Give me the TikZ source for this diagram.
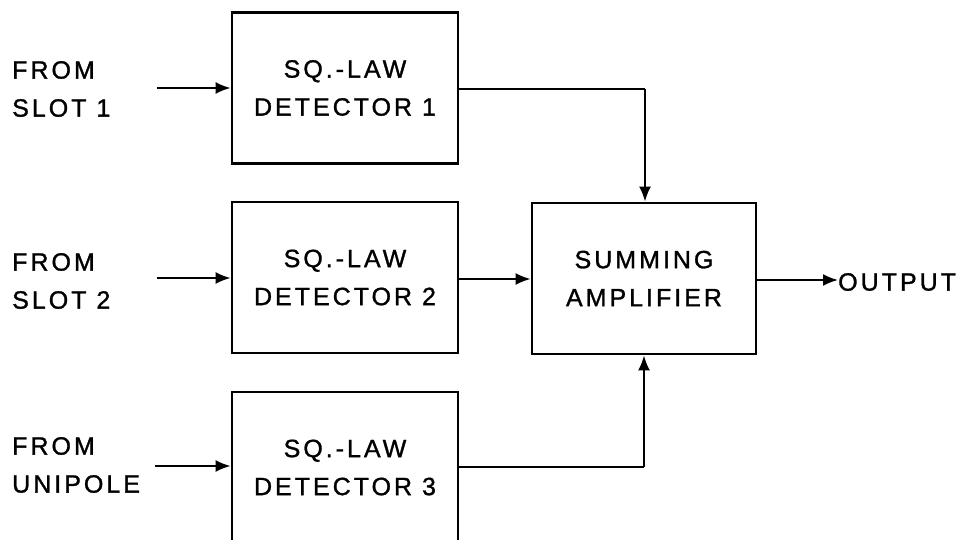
\documentclass[tikz,border=0pt]{standalone}
\usepackage{fontspec}
\setmainfont{Liberation Sans}[LetterSpace=12, FakeBold=1.2]
\usetikzlibrary{arrows.meta}
\newcommand\lettering{\fontsize{25}{38}\selectfont}
\begin{document}
\begin{tikzpicture}[x=1pt,y=-1pt,
  block/.style={draw, line width=2.8pt, minimum width=226pt, minimum height=151pt,
                align=center, inner sep=0pt, font=\lettering},
  label/.style={align=left, anchor=west, inner sep=0pt, font=\lettering},
  flow/.style={line width=2pt, -{Latex[length=15pt,width=12pt]}},
  wire/.style={line width=2pt}]
\useasboundingbox (0,0) rectangle (967,540);
\clip (0,0) rectangle (967,540);

% detector blocks and the summing amplifier
\node[block] (d1) at (345,88) {SQ.-LAW\\DETECTOR 1};
\node[block] (d2) at (345,277.5) {SQ.-LAW\\DETECTOR 2};
\node[block] (d3) at (345,467.5) {SQ.-LAW\\DETECTOR 3};
\node[block, minimum width=224pt] (amp) at (644,278.5) {SUMMING\\AMPLIFIER};

% input labels
\node[label] (in1) at (12,89) {FROM\\SLOT 1};
\node[label] (in2) at (12,281) {FROM\\SLOT 2};
\node[label] (in3) at (12,465) {FROM\\UNIPOLE};
\node[label] (out) at (838,282) {OUTPUT};

% input arrows
\coordinate (s1) at (157,88);
\coordinate (s2) at (157,278);
\coordinate (s3) at (155,466);
\draw[flow] (s1) -- (d1.west |- s1);
\draw[flow] (s2) -- (d2.west |- s2);
\draw[flow] (s3) -- (d3.west |- s3);

% detector outputs into the summing amplifier
\coordinate (k1) at (645,89);
\coordinate (k3) at (644,467);
\draw[wire] (d1.east |- k1) -- (k1);
\draw[flow] (k1) -- (k1 |- amp.north);
\draw[flow] (d2.east |- 0,279) -- (amp.west |- 0,279);
\draw[wire] (d3.east |- k3) -- (k3);
\draw[flow] (k3) -- (k3 |- amp.south);

% amplifier output
\draw[flow] (amp.east |- 0,280) -- (out.west |- 0,280);
\end{tikzpicture}
\end{document}
